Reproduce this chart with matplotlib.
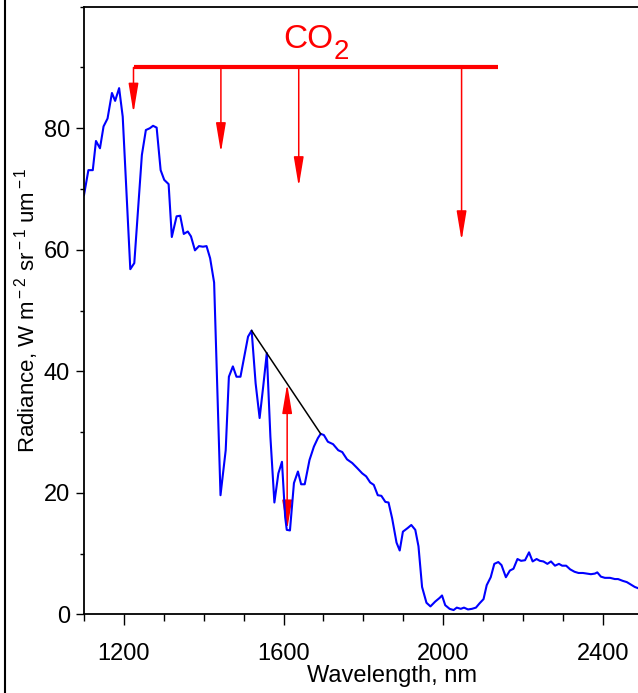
import matplotlib.pyplot as plt
import matplotlib.font_manager as fm
from matplotlib.lines import Line2D
from matplotlib.patches import FancyArrowPatch
from matplotlib.ticker import MultipleLocator

# measured spectrum
wavelength = [1100, 1111, 1122, 1130, 1140, 1149, 1159, 1170, 1178, 1188,
              1197, 1216, 1226, 1245, 1255, 1265, 1273, 1282, 1292, 1301,
              1312, 1320, 1332, 1341, 1350, 1360, 1368, 1378, 1388, 1398,
              1407, 1416, 1426, 1442, 1455, 1463, 1473, 1482, 1492, 1511,
              1520, 1530, 1540, 1549, 1558, 1567, 1577, 1587, 1596, 1604,
              1608, 1616, 1626, 1636, 1644, 1653, 1665, 1676, 1686, 1693,
              1701, 1711, 1724, 1737, 1747, 1759, 1772, 1784, 1797, 1807,
              1817, 1826, 1836, 1845, 1855, 1863, 1872, 1883, 1891, 1899,
              1911, 1920, 1930, 1938, 1947, 1958, 1968, 1980, 1991, 1997,
              2005, 2016, 2026, 2034, 2044, 2052, 2062, 2072, 2082, 2091,
              2101, 2109, 2119, 2128, 2138, 2146, 2157, 2167, 2176, 2186,
              2195, 2205, 2215, 2224, 2234, 2242, 2251, 2261, 2270, 2280,
              2290, 2298, 2308, 2318, 2329, 2339, 2350, 2360, 2370, 2380,
              2386, 2395, 2405, 2418, 2430, 2438, 2450, 2460, 2470, 2480,
              2488]
radiance = [69.0, 73.1, 73.1, 77.9, 76.7, 80.3, 81.6, 85.8, 84.5, 86.6,
            81.9, 56.8, 57.8, 75.6, 79.7, 80.0, 80.4, 80.1, 73.1, 71.5,
            70.8, 62.1, 65.5, 65.6, 62.6, 63.0, 62.2, 59.9, 60.6, 60.5,
            60.6, 58.6, 54.6, 19.6, 27.0, 39.1, 40.8, 39.1, 39.1, 45.7,
            46.7, 38.0, 32.3, 37.5, 43.0, 29.2, 18.4, 23.2, 25.1, 16.0,
            13.9, 13.8, 21.6, 23.5, 21.4, 21.4, 25.4, 27.6, 29.0, 29.7,
            29.5, 28.4, 28.0, 27.0, 26.7, 25.5, 24.9, 24.1, 23.2, 22.7,
            21.7, 21.3, 19.6, 19.5, 18.5, 18.4, 15.8, 11.8, 10.5, 13.6,
            14.2, 14.7, 13.9, 11.2, 4.5, 1.9, 1.3, 2.1, 2.7, 3.1,
            1.5, 0.9, 0.7, 1.1, 0.9, 1.1, 0.8, 0.9, 1.1, 1.8,
            2.5, 4.8, 6.1, 8.3, 8.6, 8.1, 6.1, 7.2, 7.5, 9.1,
            8.8, 8.9, 10.2, 8.7, 9.1, 8.8, 8.7, 8.3, 8.7, 8.0,
            8.3, 8.0, 8.0, 7.4, 7.0, 6.8, 6.8, 6.7, 6.6, 6.7,
            6.9, 6.2, 6.0, 6.0, 5.8, 5.8, 5.5, 5.3, 4.9, 4.5,
            4.3]

# CO2 absorption bands
co2_bar = (1225, 2136, 90)
co2_bands = [1224, 1443, 1638, 2046]
co2_tips = [82.5, 76.0, 70.4, 61.5]

# continuum across the 1.6 um band and band depth
continuum_x = [1520, 1693]
continuum_y = [46.7, 29.7]
depth_x = 1609
depth_y = [13.9, 37.95]

names = {f.name for f in fm.fontManager.ttflist}
narrow = 'Liberation Sans Narrow' if 'Liberation Sans Narrow' in names else 'Liberation Sans'
plt.rcParams['font.family'] = [narrow, 'DejaVu Sans']
plt.rcParams['mathtext.fontset'] = 'custom'
plt.rcParams['mathtext.rm'] = 'Liberation Sans'
plt.rcParams['mathtext.it'] = 'Liberation Sans'

fig = plt.figure(figsize=(6.38, 6.93), dpi=100)
ax = fig.add_axes([84 / 638, 78.7 / 693, 554 / 638, 607.6 / 693])

ax.plot(wavelength, radiance, color='#0000ff', lw=1.5)
ax.plot(continuum_x, continuum_y, color='black', lw=1.1)

ax.plot(co2_bar[:2], [co2_bar[2]] * 2, color='#ff0000', lw=3, solid_capstyle='butt')
for x, tip in zip(co2_bands, co2_tips):
    ax.add_patch(FancyArrowPatch((x, co2_bar[2]), (x, tip),
                                 arrowstyle='-|>,head_length=1.8,head_width=0.3',
                                 mutation_scale=10, color='#ff0000', lw=1.1,
                                 shrinkA=0, shrinkB=0))
ax.add_patch(FancyArrowPatch((depth_x, depth_y[0]), (depth_x, depth_y[1]),
                             arrowstyle='<|-|>,head_length=1.8,head_width=0.3',
                             mutation_scale=10, color='#ff0000', lw=1.1,
                             shrinkA=0, shrinkB=0))

co = ax.text(1600, 93.2, 'CO', color='#ff0000', fontsize=24, family=narrow)
ax.annotate('2', xy=(1, 0), xycoords=co, xytext=(0, -7), textcoords='offset points',
            va='bottom', color='#ff0000', fontsize=20, family=narrow)

ax.set_xlim(1100, 2488)
ax.set_ylim(0, 100)
ax.set_xticks([1200, 1600, 2000, 2400])
ax.xaxis.set_minor_locator(MultipleLocator(100))
ax.set_yticks([0, 20, 40, 60, 80])
ax.yaxis.set_minor_locator(MultipleLocator(10))

ax.tick_params(axis='x', which='major', length=8, width=1, pad=13, labelsize=17)
ax.tick_params(axis='x', which='minor', length=5, width=1)
ax.tick_params(axis='y', which='major', length=6, width=1, pad=4, labelsize=17)
ax.tick_params(axis='y', which='minor', length=3, width=1)

ax.spines['right'].set_visible(False)
for s in ('left', 'top', 'bottom'):
    ax.spines[s].set_linewidth(1.3)

ax.set_xlabel('Wavelength, nm', fontsize=17)
ax.xaxis.set_label_coords(0.556, -0.083)
ax.set_ylabel(r'Radiance, W m$^{\rm -2}$ sr$^{\rm -1}$ um$^{\rm -1}$',
              fontsize=16, family='Liberation Sans')
ax.yaxis.set_label_coords(-0.078, 0.5)

fig.add_artist(Line2D([4.5 / 638] * 2, [0, 1], color='black', lw=1.5))

fig.savefig('out.png', dpi=100)
